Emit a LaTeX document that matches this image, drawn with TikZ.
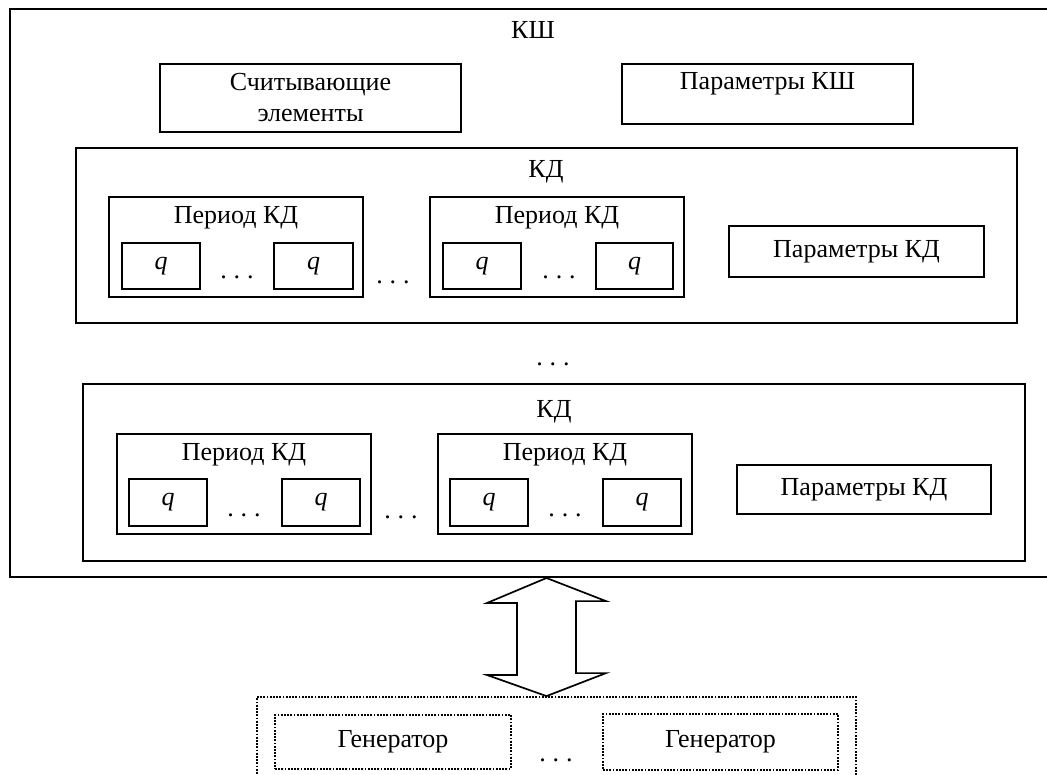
\documentclass[tikz,border=0pt]{standalone}
\usepackage{fontspec}
\setmainfont{Liberation Serif}
\newcommand{\tdots}{.\kern7pt.\kern7pt.}

\begin{document}
\begin{tikzpicture}[x=1pt, y=-1pt, font=\fontsize{26}{31}\selectfont,
  blk/.style={draw, line width=2pt, inner sep=0pt},
  gbox/.style={draw, line width=1.8pt, dash pattern=on 1.8pt off 1.4pt, inner sep=0pt},
  txt/.style={inner sep=0pt}]
\useasboundingbox (0,0) rectangle (1047,775);
\clip (0,0) rectangle (1047,775);

\node (ksh) at (535,293) [blk, minimum width=1050, minimum height=568] {};
\node (kshlbl) at (533,30) [txt] {КШ};
\node (reader) at (310.5,98) [blk, minimum width=301, minimum height=68, align=center] {Считывающие\\элементы};
\node (kshpar) at (767.5,94) [blk, minimum width=291, minimum height=60] {};
\node (kshpartxt) at (767.5,84) [txt] {Параметры КШ};

\node (kd1) at (546.5,235.5) [blk, minimum width=941, minimum height=175] {};
\node (kd1lbl) at (546,172) [txt] {КД};
\node (per11) at (236,247) [blk, minimum width=254, minimum height=100] {};
\node (per11lbl) at (236,218) [txt] {Период КД};
        \node (q111) at (161,266) [blk, minimum width=78, minimum height=46] {\textit{q}};
        \node (d11) at (237,277) [txt] {\tdots};
        \node (q112) at (313.5,266) [blk, minimum width=79, minimum height=46] {\textit{q}};
\node (dd1) at (393,282) [txt] {\tdots};
\node (per12) at (557,247) [blk, minimum width=254, minimum height=100] {};
\node (per12lbl) at (557,218) [txt] {Период КД};
        \node (q121) at (482,266) [blk, minimum width=78, minimum height=46] {\textit{q}};
        \node (d12) at (559,277) [txt] {\tdots};
        \node (q122) at (634.5,266) [blk, minimum width=77, minimum height=46] {\textit{q}};
\node (kd1par) at (856.5,251.5) [blk, minimum width=255, minimum height=51] {Параметры КД};

\node (kdgap) at (553,364) [txt] {\tdots};

\node (kd2) at (554,472.5) [blk, minimum width=942, minimum height=177] {};
\node (kd2lbl) at (554,412) [txt] {КД};
\node (per21) at (244,484) [blk, minimum width=254, minimum height=100] {};
\node (per21lbl) at (244,455) [txt] {Период КД};
        \node (q211) at (168,502.5) [blk, minimum width=78, minimum height=47] {\textit{q}};
        \node (d21) at (244,515) [txt] {\tdots};
        \node (q212) at (321,502.5) [blk, minimum width=78, minimum height=47] {\textit{q}};
\node (dd2) at (401,517) [txt] {\tdots};
\node (per22) at (565,484) [blk, minimum width=254, minimum height=100] {};
\node (per22lbl) at (565,455) [txt] {Период КД};
        \node (q221) at (489,502.5) [blk, minimum width=78, minimum height=47] {\textit{q}};
        \node (d22) at (565,515) [txt] {\tdots};
        \node (q222) at (642,502.5) [blk, minimum width=78, minimum height=47] {\textit{q}};
\node (kd2par) at (864,489.5) [blk, minimum width=254, minimum height=49] {Параметры КД};

\node (gen) at (556.5,748.5) [gbox, minimum width=599, minimum height=103] {};
\node (gen1) at (393,742) [gbox, minimum width=236, minimum height=54] {Генератор};
\node (gdots) at (556,760) [txt] {\tdots};
\node (gen2) at (720.5,742) [gbox, minimum width=235, minimum height=56] {Генератор};

\coordinate (ax) at (546.5,0);
\coordinate (atop) at (ksh.south -| ax);
\coordinate (abot) at (gen.north -| ax);
\draw[line width=1.7pt] (atop) -- ++(-59.5,25) -- ++(30,0) -- ++(0,72) -- ++(-30,0)
  -- (abot) -- ++(59.5,-23) -- ++(-30,0) -- ++(0,-72) -- ++(30,0) -- cycle;

\end{tikzpicture}
\end{document}
